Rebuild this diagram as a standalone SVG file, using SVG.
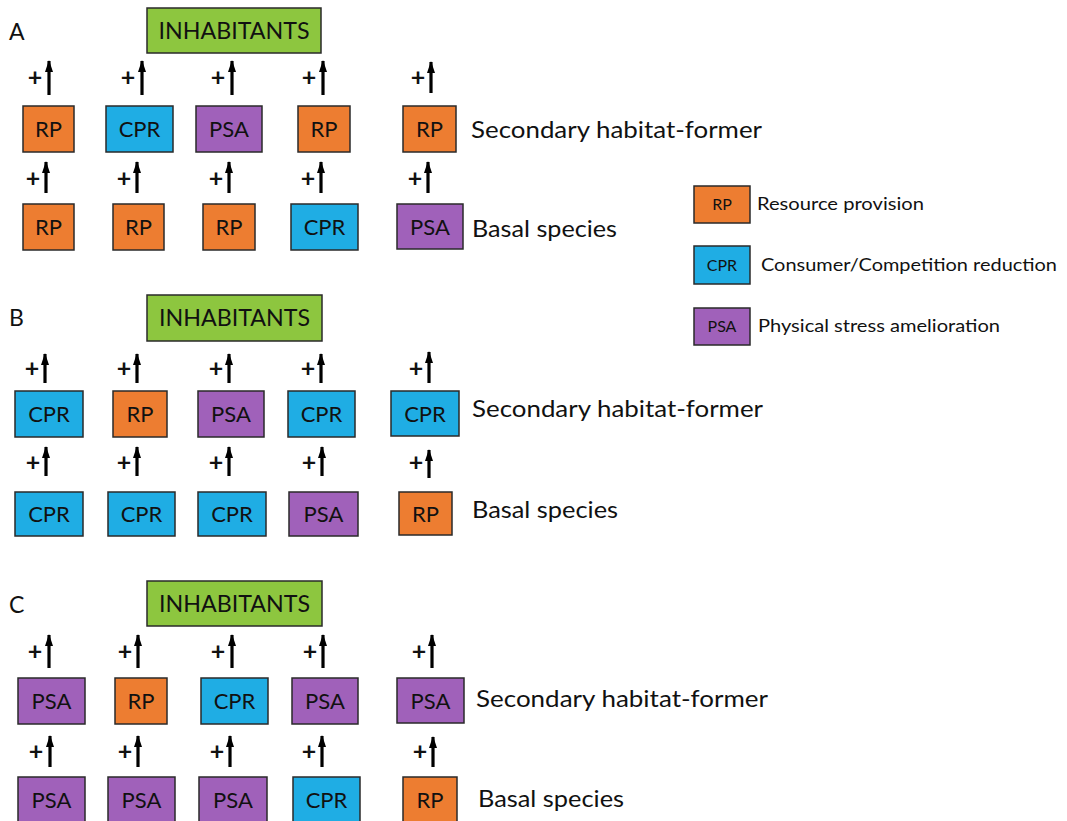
<svg xmlns="http://www.w3.org/2000/svg" width="1067" height="821" viewBox="0 0 1067 821">
<defs>
<style>
text{font-family:Lato,"Open Sans","Liberation Sans",sans-serif;fill:#111}
.b{stroke:#2a2a2a;stroke-width:1.5}
.rp{fill:#ED7D31}.cpr{fill:#1FADE4}.psa{fill:#A061BA}.inh{fill:#8DC63F}
.bl{font-size:22px;text-anchor:middle}
.inht{font-size:23px;text-anchor:middle}
.lvl{font-size:24px}
.pl{font-size:25px;text-anchor:middle;font-weight:bold}
.pan{font-size:23px}
.lg{font-size:18px}
.lgb{font-size:16px;text-anchor:middle}
.ar{stroke:#000;stroke-width:3.2;fill:none}
</style>
<marker id="up" markerWidth="9" markerHeight="12" refX="4.5" refY="1" orient="0" markerUnits="userSpaceOnUse" viewBox="0 0 9 12">
<path d="M4.5 0 L8.5 12 L0.5 12 Z" fill="#000"/>
</marker>
</defs>
<rect width="1067" height="821" fill="#fff"/>

<!-- Panel labels -->
<text class="pan" x="9" y="40">A</text>
<text class="pan" x="9" y="326">B</text>
<text class="pan" x="9" y="613">C</text>

<!-- ===== Panel A ===== -->
<g id="A-inhabitants"><rect class="b inh" x="147" y="8" width="174" height="45"/><text class="inht" x="234" y="39" textLength="151" lengthAdjust="spacingAndGlyphs">INHABITANTS</text></g>
<g id="A-s1"><rect class="b rp" x="23" y="106" width="51" height="46"/><text class="bl" x="48.5" y="137">RP</text></g>
<g id="A-s2"><rect class="b cpr" x="106" y="106" width="67" height="46"/><text class="bl" x="139.5" y="137">CPR</text></g>
<g id="A-s3"><rect class="b psa" x="196" y="106" width="66" height="46"/><text class="bl" x="229" y="137">PSA</text></g>
<g id="A-s4"><rect class="b rp" x="298" y="106" width="52" height="46"/><text class="bl" x="324" y="137">RP</text></g>
<g id="A-s5"><rect class="b rp" x="403" y="106" width="53" height="46"/><text class="bl" x="429.5" y="137">RP</text></g>
<g id="A-b1"><rect class="b rp" x="23" y="204" width="51" height="46"/><text class="bl" x="48.5" y="235">RP</text></g>
<g id="A-b2"><rect class="b rp" x="113" y="204" width="51" height="46"/><text class="bl" x="138.5" y="235">RP</text></g>
<g id="A-b3"><rect class="b rp" x="203" y="204" width="52" height="46"/><text class="bl" x="229" y="235">RP</text></g>
<g id="A-b4"><rect class="b cpr" x="291" y="204" width="67" height="46"/><text class="bl" x="324.5" y="235">CPR</text></g>
<g id="A-b5"><rect class="b psa" x="397" y="204" width="66" height="45"/><text class="bl" x="430" y="235">PSA</text></g>
<g id="A-labels">
<text class="lvl" x="471" y="138" textLength="291" lengthAdjust="spacingAndGlyphs">Secondary habitat-former</text>
<text class="lvl" x="472" y="237" textLength="145" lengthAdjust="spacingAndGlyphs">Basal species</text>
</g>

<!-- ===== Legend ===== -->
<g id="legend-rp"><rect class="b rp" x="694" y="186" width="56" height="37"/><text class="lgb" x="722" y="210">RP</text><text class="lg" x="757" y="210" textLength="167" lengthAdjust="spacingAndGlyphs">Resource provision</text></g>
<g id="legend-cpr"><rect class="b cpr" x="694" y="246" width="56" height="38"/><text class="lgb" x="722" y="271">CPR</text><text class="lg" x="761" y="271" textLength="296" lengthAdjust="spacingAndGlyphs">Consumer/Competition reduction</text></g>
<g id="legend-psa"><rect class="b psa" x="694" y="308" width="56" height="37"/><text class="lgb" x="722" y="332">PSA</text><text class="lg" x="758" y="332" textLength="242" lengthAdjust="spacingAndGlyphs">Physical stress amelioration</text></g>

<!-- ===== Panel B ===== -->
<g id="B-inhabitants"><rect class="b inh" x="147" y="295" width="175" height="46"/><text class="inht" x="234.5" y="326" textLength="151" lengthAdjust="spacingAndGlyphs">INHABITANTS</text></g>
<g id="B-s1"><rect class="b cpr" x="15" y="391" width="68" height="46"/><text class="bl" x="49" y="422">CPR</text></g>
<g id="B-s2"><rect class="b rp" x="113" y="391" width="54" height="46"/><text class="bl" x="140" y="422">RP</text></g>
<g id="B-s3"><rect class="b psa" x="198" y="391" width="66" height="46"/><text class="bl" x="231" y="422">PSA</text></g>
<g id="B-s4"><rect class="b cpr" x="288" y="391" width="67" height="46"/><text class="bl" x="321.5" y="422">CPR</text></g>
<g id="B-s5"><rect class="b cpr" x="391" y="391" width="68" height="45"/><text class="bl" x="425" y="422">CPR</text></g>
<g id="B-b1"><rect class="b cpr" x="15" y="492" width="68" height="44"/><text class="bl" x="49" y="522">CPR</text></g>
<g id="B-b2"><rect class="b cpr" x="108" y="492" width="67" height="44"/><text class="bl" x="141.5" y="522">CPR</text></g>
<g id="B-b3"><rect class="b cpr" x="198" y="492" width="68" height="44"/><text class="bl" x="232" y="522">CPR</text></g>
<g id="B-b4"><rect class="b psa" x="289" y="492" width="69" height="44"/><text class="bl" x="323.5" y="522">PSA</text></g>
<g id="B-b5"><rect class="b rp" x="399" y="492" width="53" height="43"/><text class="bl" x="425.5" y="522">RP</text></g>
<g id="B-labels">
<text class="lvl" x="472" y="417" textLength="291" lengthAdjust="spacingAndGlyphs">Secondary habitat-former</text>
<text class="lvl" x="472" y="518" textLength="146" lengthAdjust="spacingAndGlyphs">Basal species</text>
</g>

<!-- ===== Panel C ===== -->
<g id="C-inhabitants"><rect class="b inh" x="147" y="581" width="175" height="45"/><text class="inht" x="234.5" y="612" textLength="151" lengthAdjust="spacingAndGlyphs">INHABITANTS</text></g>
<g id="C-s1"><rect class="b psa" x="18" y="678" width="67" height="46"/><text class="bl" x="51.5" y="709">PSA</text></g>
<g id="C-s2"><rect class="b rp" x="115" y="678" width="52" height="46"/><text class="bl" x="141" y="709">RP</text></g>
<g id="C-s3"><rect class="b cpr" x="201" y="678" width="67" height="46"/><text class="bl" x="234.5" y="709">CPR</text></g>
<g id="C-s4"><rect class="b psa" x="292" y="678" width="66" height="46"/><text class="bl" x="325" y="709">PSA</text></g>
<g id="C-s5"><rect class="b psa" x="397" y="678" width="67" height="45"/><text class="bl" x="430.5" y="709">PSA</text></g>
<g id="C-b1"><rect class="b psa" x="18" y="777" width="67" height="48"/><text class="bl" x="51.5" y="808">PSA</text></g>
<g id="C-b2"><rect class="b psa" x="108" y="777" width="67" height="48"/><text class="bl" x="141.5" y="808">PSA</text></g>
<g id="C-b3"><rect class="b psa" x="199" y="777" width="68" height="48"/><text class="bl" x="233" y="808">PSA</text></g>
<g id="C-b4"><rect class="b cpr" x="293" y="777" width="67" height="48"/><text class="bl" x="326.5" y="808">CPR</text></g>
<g id="C-b5"><rect class="b rp" x="403" y="777" width="54" height="48"/><text class="bl" x="430" y="808">RP</text></g>
<g id="C-labels">
<text class="lvl" x="476" y="707" textLength="292" lengthAdjust="spacingAndGlyphs">Secondary habitat-former</text>
<text class="lvl" x="478" y="807" textLength="146" lengthAdjust="spacingAndGlyphs">Basal species</text>
</g>

<!-- ===== Connectors ===== -->
<g id="connectors">
<line class="ar" x1="49" y1="95" x2="49" y2="61" marker-end="url(#up)"/>
<line class="ar" x1="142" y1="95" x2="142" y2="61" marker-end="url(#up)"/>
<line class="ar" x1="232" y1="95" x2="232" y2="61" marker-end="url(#up)"/>
<line class="ar" x1="323" y1="95" x2="323" y2="61" marker-end="url(#up)"/>
<line class="ar" x1="431" y1="93" x2="431" y2="62" marker-end="url(#up)"/>
<line class="ar" x1="46" y1="193" x2="46" y2="162" marker-end="url(#up)"/>
<line class="ar" x1="137" y1="193" x2="137" y2="162" marker-end="url(#up)"/>
<line class="ar" x1="229" y1="193" x2="229" y2="162" marker-end="url(#up)"/>
<line class="ar" x1="321" y1="193" x2="321" y2="162" marker-end="url(#up)"/>
<line class="ar" x1="428" y1="193" x2="428" y2="162" marker-end="url(#up)"/>
<line class="ar" x1="45" y1="383" x2="45" y2="354" marker-end="url(#up)"/>
<line class="ar" x1="137" y1="383" x2="137" y2="354" marker-end="url(#up)"/>
<line class="ar" x1="229" y1="383" x2="229" y2="354" marker-end="url(#up)"/>
<line class="ar" x1="321" y1="383" x2="321" y2="354" marker-end="url(#up)"/>
<line class="ar" x1="429" y1="383" x2="429" y2="352" marker-end="url(#up)"/>
<line class="ar" x1="46" y1="476" x2="46" y2="447" marker-end="url(#up)"/>
<line class="ar" x1="137" y1="476" x2="137" y2="447" marker-end="url(#up)"/>
<line class="ar" x1="229" y1="476" x2="229" y2="447" marker-end="url(#up)"/>
<line class="ar" x1="322" y1="476" x2="322" y2="447" marker-end="url(#up)"/>
<line class="ar" x1="429" y1="478" x2="429" y2="450" marker-end="url(#up)"/>
<line class="ar" x1="49" y1="668" x2="49" y2="635" marker-end="url(#up)"/>
<line class="ar" x1="138" y1="668" x2="138" y2="635" marker-end="url(#up)"/>
<line class="ar" x1="232" y1="668" x2="232" y2="635" marker-end="url(#up)"/>
<line class="ar" x1="323" y1="668" x2="323" y2="635" marker-end="url(#up)"/>
<line class="ar" x1="432" y1="668" x2="432" y2="635" marker-end="url(#up)"/>
<line class="ar" x1="50" y1="767" x2="50" y2="736" marker-end="url(#up)"/>
<line class="ar" x1="138" y1="767" x2="138" y2="736" marker-end="url(#up)"/>
<line class="ar" x1="230" y1="767" x2="230" y2="736" marker-end="url(#up)"/>
<line class="ar" x1="322" y1="767" x2="322" y2="736" marker-end="url(#up)"/>
<line class="ar" x1="433" y1="767" x2="433" y2="737" marker-end="url(#up)"/>
</g>

<!-- Plus signs -->
<g id="plus-labels">
<text class="pl" x="35" y="86">+</text><text class="pl" x="128" y="86">+</text><text class="pl" x="218" y="86">+</text><text class="pl" x="309" y="86">+</text><text class="pl" x="418" y="86">+</text>
<text class="pl" x="33" y="187">+</text><text class="pl" x="124" y="187">+</text><text class="pl" x="216" y="187">+</text><text class="pl" x="308" y="187">+</text><text class="pl" x="415" y="187">+</text>
<text class="pl" x="32" y="377">+</text><text class="pl" x="124" y="377">+</text><text class="pl" x="216" y="377">+</text><text class="pl" x="308" y="377">+</text><text class="pl" x="416" y="377">+</text>
<text class="pl" x="33" y="471">+</text><text class="pl" x="124" y="471">+</text><text class="pl" x="216" y="471">+</text><text class="pl" x="309" y="471">+</text><text class="pl" x="416" y="471">+</text>
<text class="pl" x="35" y="660">+</text><text class="pl" x="125" y="660">+</text><text class="pl" x="218" y="660">+</text><text class="pl" x="310" y="660">+</text><text class="pl" x="419" y="660">+</text>
<text class="pl" x="36" y="760">+</text><text class="pl" x="125" y="760">+</text><text class="pl" x="217" y="760">+</text><text class="pl" x="309" y="760">+</text><text class="pl" x="420" y="760">+</text>
</g>
</svg>
